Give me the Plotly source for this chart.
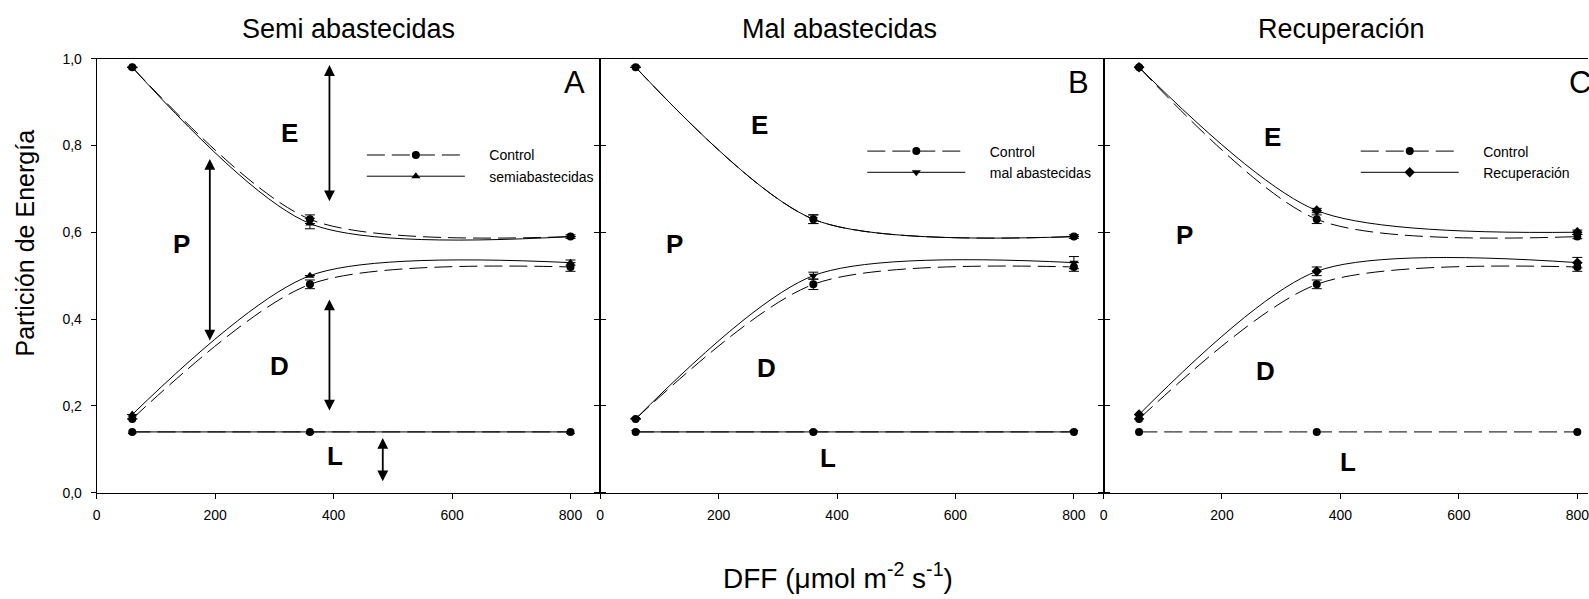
import plotly.graph_objects as go

# ---------------- data ----------------
DFF = [60, 360, 800]

# Panel A: Semi abastecidas
A_ctrl_upper = [0.98, 0.63, 0.59]
A_ctrl_upper_err = [0.0, 0.010, 0.004]
A_ctrl_lower = [0.17, 0.48, 0.52]
A_ctrl_lower_err = [0.0, 0.010, 0.010]
A_ctrl_L = [0.14, 0.14, 0.14]
A_trt_upper = [0.98, 0.62, 0.59]
A_trt_upper_err = [0.0, 0.012, 0.0]
A_trt_lower = [0.18, 0.50, 0.53]
A_trt_lower_err = [0.0, 0.0, 0.006]
A_trt_L = [0.14, 0.14, 0.14]

# Panel B: Mal abastecidas
B_ctrl_upper = [0.98, 0.63, 0.59]
B_ctrl_upper_err = [0.0, 0.010, 0.0]
B_ctrl_lower = [0.17, 0.48, 0.52]
B_ctrl_lower_err = [0.0, 0.012, 0.010]
B_ctrl_L = [0.14, 0.14, 0.14]
B_trt_upper = [0.98, 0.63, 0.59]
B_trt_upper_err = [0.0, 0.010, 0.004]
B_trt_lower = [0.17, 0.50, 0.53]
B_trt_lower_err = [0.0, 0.008, 0.014]
B_trt_L = [0.14, 0.14, 0.14]

# Panel C: Recuperación
C_ctrl_upper = [0.98, 0.63, 0.59]
C_ctrl_upper_err = [0.0, 0.010, 0.005]
C_ctrl_lower = [0.17, 0.48, 0.52]
C_ctrl_lower_err = [0.0, 0.010, 0.010]
C_ctrl_L = [0.14, 0.14, 0.14]
C_trt_upper = [0.98, 0.65, 0.60]
C_trt_upper_err = [0.0, 0.005, 0.005]
C_trt_lower = [0.18, 0.51, 0.53]
C_trt_lower_err = [0.0, 0.010, 0.012]

panel_titles = ["Semi abastecidas", "Mal abastecidas", "Recuperación"]
panel_letters = ["A", "B", "C"]
ctrl_name = "Control"
trt_names = ["semiabastecidas", "mal abastecidas", "Recuperación"]
trt_symbols = ["triangle-up", "triangle-down", "diamond"]

x_tickvals = [0, 200, 400, 600, 800]
y_tickvals = [0.0, 0.2, 0.4, 0.6, 0.8, 1.0]
y_ticktext = ["0,0", "0,2", "0,4", "0,6", "0,8", "1,0"]

# region labels: (text, x, y) per panel
region_labels = [
    [("E", 325, 0.828), ("P", 143, 0.572), ("D", 308, 0.292), ("L", 403, 0.085)],
    [("E", 269, 0.848), ("P", 126, 0.574), ("D", 281, 0.287), ("L", 385, 0.080)],
    [("E", 285, 0.820), ("P", 136, 0.594), ("D", 273, 0.280), ("L", 413, 0.070)],
]
# double arrows in panel A: (x, y_start, y_end)
arrows_A = [(393, 0.668, 0.985), (191, 0.347, 0.769), (393, 0.186, 0.445), (483, 0.023, 0.126)]

# ---------------- layout geometry ----------------
W, H = 1589, 599
px_per_unit = 505 / 850.0
xdom = [
    [93 / W, 598 / W],
    [598 / W, 1103 / W],
    [1103 / W, 1.0],
]
xranges = [[0, 850], [0, 850], [0, (W - 1103) / px_per_unit]]
ydom = [1 - 498 / H, 1 - 52 / H]

FONT = "Arial, Liberation Sans, Helvetica, sans-serif"
DASH = "18px,7px"
PAD = "\u00a0" * 5

fig = go.Figure()

panels = [
    (A_ctrl_upper, A_ctrl_upper_err, A_ctrl_lower, A_ctrl_lower_err, A_ctrl_L,
     A_trt_upper, A_trt_upper_err, A_trt_lower, A_trt_lower_err, A_trt_L),
    (B_ctrl_upper, B_ctrl_upper_err, B_ctrl_lower, B_ctrl_lower_err, B_ctrl_L,
     B_trt_upper, B_trt_upper_err, B_trt_lower, B_trt_lower_err, B_trt_L),
    (C_ctrl_upper, C_ctrl_upper_err, C_ctrl_lower, C_ctrl_lower_err, C_ctrl_L,
     C_trt_upper, C_trt_upper_err, C_trt_lower, C_trt_lower_err, None),
]

legend_names = ["legend", "legend2", "legend3"]

for i, p in enumerate(panels):
    xa = "x" if i == 0 else f"x{i+1}"
    ya = "y" if i == 0 else f"y{i+1}"
    (cu, cue, cl, cle, cL, tu, tue, tl, tle, tL) = p
    lg = legend_names[i]
    series = [
        (tu, tue, trt_names[i], trt_symbols[i], "solid", True, "t"),
        (tl, tle, trt_names[i], trt_symbols[i], "solid", False, "t"),
    ]
    if tL is not None:
        series.append((tL, None, trt_names[i], trt_symbols[i], "solid", False, "t"))
    ctrl_series = [
        (cu, cue, ctrl_name, "circle", DASH, True, "c"),
        (cl, cle, ctrl_name, "circle", DASH, False, "c"),
        (cL, None, ctrl_name, "circle", DASH, False, "c"),
    ]
    for (vals, err, name, sym, dash, show, grp) in ctrl_series + series:
        tr = go.Scatter(
            x=DFF, y=vals, name=PAD + name, mode="lines+markers",
            line=dict(color="black", width=1, dash=dash, shape="spline", smoothing=0.8),
            marker=dict(symbol=sym, size=8, color="black"),
            xaxis=xa, yaxis=ya, legend=lg, legendgroup=f"{grp}{i}",
            showlegend=show, cliponaxis=False,
        )
        if err is not None:
            tr.error_y = dict(type="data", array=err, visible=True, color="black",
                              thickness=1, width=5)
        fig.add_trace(tr)

# axes
for i in range(3):
    xk = "xaxis" if i == 0 else f"xaxis{i+1}"
    yk = "yaxis" if i == 0 else f"yaxis{i+1}"
    fig.layout[xk] = dict(
        domain=xdom[i], range=xranges[i], anchor="y" if i == 0 else f"y{i+1}",
        tickvals=x_tickvals, ticks="outside", ticklen=5, tickwidth=1, tickcolor="black",
        showline=True, linecolor="black", linewidth=1, mirror=True,
        showgrid=False, zeroline=False, ticklabeloverflow="allow",
        ticklabelstandoff=5,
        tickfont=dict(family=FONT, size=14, color="black"),
    )
    fig.layout[yk] = dict(
        domain=ydom, range=[0, 1.0], anchor="x" if i == 0 else f"x{i+1}",
        tickvals=y_tickvals, ticktext=y_ticktext, ticks="outside", ticklen=5,
        tickwidth=1, tickcolor="black",
        showline=True, linecolor="black", linewidth=1,
        mirror="ticks" if i < 2 else False,
        showgrid=False, zeroline=False, showticklabels=(i == 0),
        ticklabelstandoff=6,
        tickfont=dict(family=FONT, size=14, color="black"),
    )

annotations = []
title_x = [346, 838, 1342]
letter_x = [572, 1078, 1581]
for i in range(3):
    annotations.append(dict(
        text=panel_titles[i], xref="paper", yref="paper",
        x=title_x[i] / W, y=1 - 22 / H, xanchor="center", yanchor="middle",
        showarrow=False, font=dict(family=FONT, size=27, color="black")))
    annotations.append(dict(
        text=panel_letters[i], xref="paper", yref="paper",
        x=letter_x[i] / W, y=1 - 77 / H, xanchor="center", yanchor="middle",
        showarrow=False, font=dict(family=FONT, size=31, color="black")))
    xr = "x" if i == 0 else f"x{i+1}"
    yr = "y" if i == 0 else f"y{i+1}"
    for (t, lx, ly) in region_labels[i]:
        annotations.append(dict(
            text=f"<b>{t}</b>", xref=xr, yref=yr, x=lx, y=ly,
            xanchor="center", yanchor="middle", showarrow=False,
            font=dict(family=FONT, size=26, color="black")))

for (ax_x, y0, y1) in arrows_A:
    annotations.append(dict(
        text="", xref="x", yref="y", x=ax_x, y=y1, axref="x", ayref="y",
        ax=ax_x, ay=y0, showarrow=True, arrowhead=2, arrowside="end+start",
        arrowsize=1.2, arrowwidth=1.8, arrowcolor="black", standoff=0, startstandoff=0))

annotations.append(dict(
    text="Partición de Energía", xref="paper", yref="paper",
    x=21 / W, y=1 - 241 / H, xanchor="center", yanchor="middle", textangle=-90,
    showarrow=False, font=dict(family=FONT, size=25, color="black")))
annotations.append(dict(
    text="DFF (μmol m<sup>-2</sup> s<sup>-1</sup>)", xref="paper", yref="paper",
    x=837 / W, y=1 - 584 / H, xanchor="center", yanchor="middle",
    showarrow=False, font=dict(family=FONT, size=28, color="black")))

leg_common = dict(xanchor="left", yanchor="top", bgcolor="rgba(0,0,0,0)",
                  font=dict(family=FONT, size=14, color="black"),
                  itemwidth=98, tracegroupgap=0, traceorder="normal")
fig.update_layout(
    width=W, height=H, margin=dict(l=0, r=0, t=0, b=0),
    paper_bgcolor="white", plot_bgcolor="white",
    annotations=annotations, showlegend=True,
    legend=dict(x=359 / W, y=1 - 135 / H, **leg_common),
    legend2=dict(x=861 / W, y=1 - 131 / H, **leg_common),
    legend3=dict(x=1356 / W, y=1 - 131 / H, **leg_common),
)

fig.write_html("out.html")
